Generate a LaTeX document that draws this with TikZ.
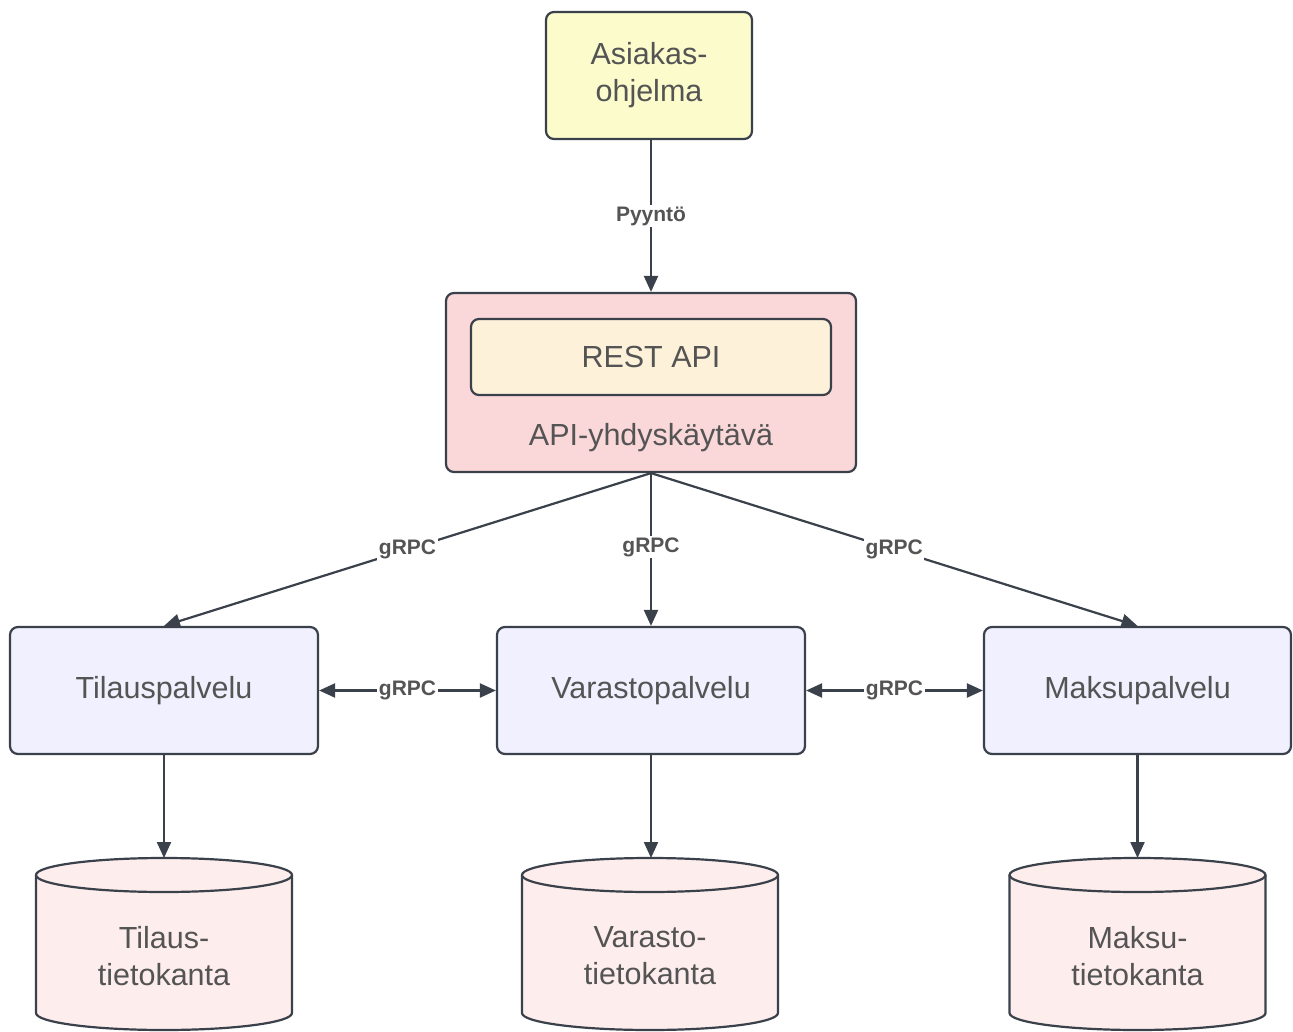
\documentclass[tikz,border=0pt]{standalone}
\usepackage{fontspec}
\setmainfont{Liberation Sans}
\usetikzlibrary{arrows.meta}
\definecolor{linec}{HTML}{3A414B}
\definecolor{txtc}{HTML}{545454}
\definecolor{clientfill}{HTML}{FBFBCC}
\definecolor{gwfill}{HTML}{FAD7D8}
\definecolor{restfill}{HTML}{FDF1D9}
\definecolor{svcfill}{HTML}{F0F0FE}
\definecolor{dbfill}{HTML}{FDEDEC}
\tikzset{
  box/.style={draw=linec, line width=2.2pt, rounded corners=8pt, text=txtc,
    font=\fontsize{30.5}{37}\selectfont, align=center, inner sep=0pt},
  conn/.style={draw=linec, line width=2.2pt, -{Triangle[length=16pt,width=14pt]}},
  biconn/.style={draw=linec, line width=2.2pt, {Triangle[length=16pt,width=14pt]}-{Triangle[length=16pt,width=14pt]}},
  lbl/.style={fill=white, text=txtc, font=\bfseries\fontsize{21}{24}\selectfont, inner sep=1.5pt},
  dbtext/.style={text=txtc, font=\fontsize{30.5}{37}\selectfont, align=center},
  cyl/.style={draw=linec, line width=2.2pt, fill=dbfill}
}
\begin{document}
\begin{tikzpicture}[x=1pt,y=-1pt]
\useasboundingbox (0,0) rectangle (1293,1032);
\fill[white] (0,0) rectangle (1293,1032);

% client
\node[box, fill=clientfill, minimum width=206pt, minimum height=127pt] (client) at (649,75.5) {Asiakas-\\ohjelma};

% gateway with inner REST API box
\node[box, fill=gwfill, minimum width=410pt, minimum height=179pt] (gw) at (651,382.5) {};
\node[box, fill=restfill, minimum width=360pt, minimum height=76pt] (rest) at (651,357) {REST API};
\node[text=txtc, font=\fontsize{30.5}{37}\selectfont] (gwlabel) at (651,438) {API-yhdyskäytävä};

% services
\node[box, fill=svcfill, minimum width=308pt, minimum height=127pt] (tilaus) at (164,690.5) {Tilauspalvelu};
\node[box, fill=svcfill, minimum width=308pt, minimum height=127pt] (varasto) at (651,690.5) {Varastopalvelu};
\node[box, fill=svcfill, minimum width=307pt, minimum height=127pt] (maksu) at (1137.5,690.5) {Maksupalvelu};

% databases (cylinders)
\foreach \cx/\nm in {164/tdb, 650/vdb, 1137.5/mdb}{
  \path[cyl] (\cx-128,875) -- (\cx-128,1013)
     arc[start angle=180, end angle=0, x radius=128, y radius=17]
     -- (\cx+128,875);
  \draw[cyl] (\cx,875) ellipse [x radius=128, y radius=17];
  \coordinate (\nm) at (\cx,858);
}
\node[dbtext] (tdbtext) at (164,956) {Tilaus-\\tietokanta};
\node[dbtext] (vdbtext) at (650,956) {Varasto-\\tietokanta};
\node[dbtext] (mdbtext) at (1137.5,956) {Maksu-\\tietokanta};

% connectors
\draw[conn] (client.south -| gw.north) -- node[lbl] {Pyyntö} (gw.north);
\draw[conn] (gw.south) -- node[lbl, pos=0.5] {gRPC} (tilaus.north);
\draw[conn] (gw.south) -- node[lbl, pos=0.485] {gRPC} (varasto.north);
\draw[conn] (gw.south) -- node[lbl, pos=0.5] {gRPC} (maksu.north);
\draw[biconn] (tilaus.east) -- node[lbl] {gRPC} (varasto.west);
\draw[biconn] (varasto.east) -- node[lbl] {gRPC} (maksu.west);
\draw[conn] (tilaus.south) -- (tdb);
\draw[conn] (varasto.south) -- (vdb -| varasto.south);
\draw[conn] (maksu.south) -- (mdb);
\end{tikzpicture}
\end{document}
